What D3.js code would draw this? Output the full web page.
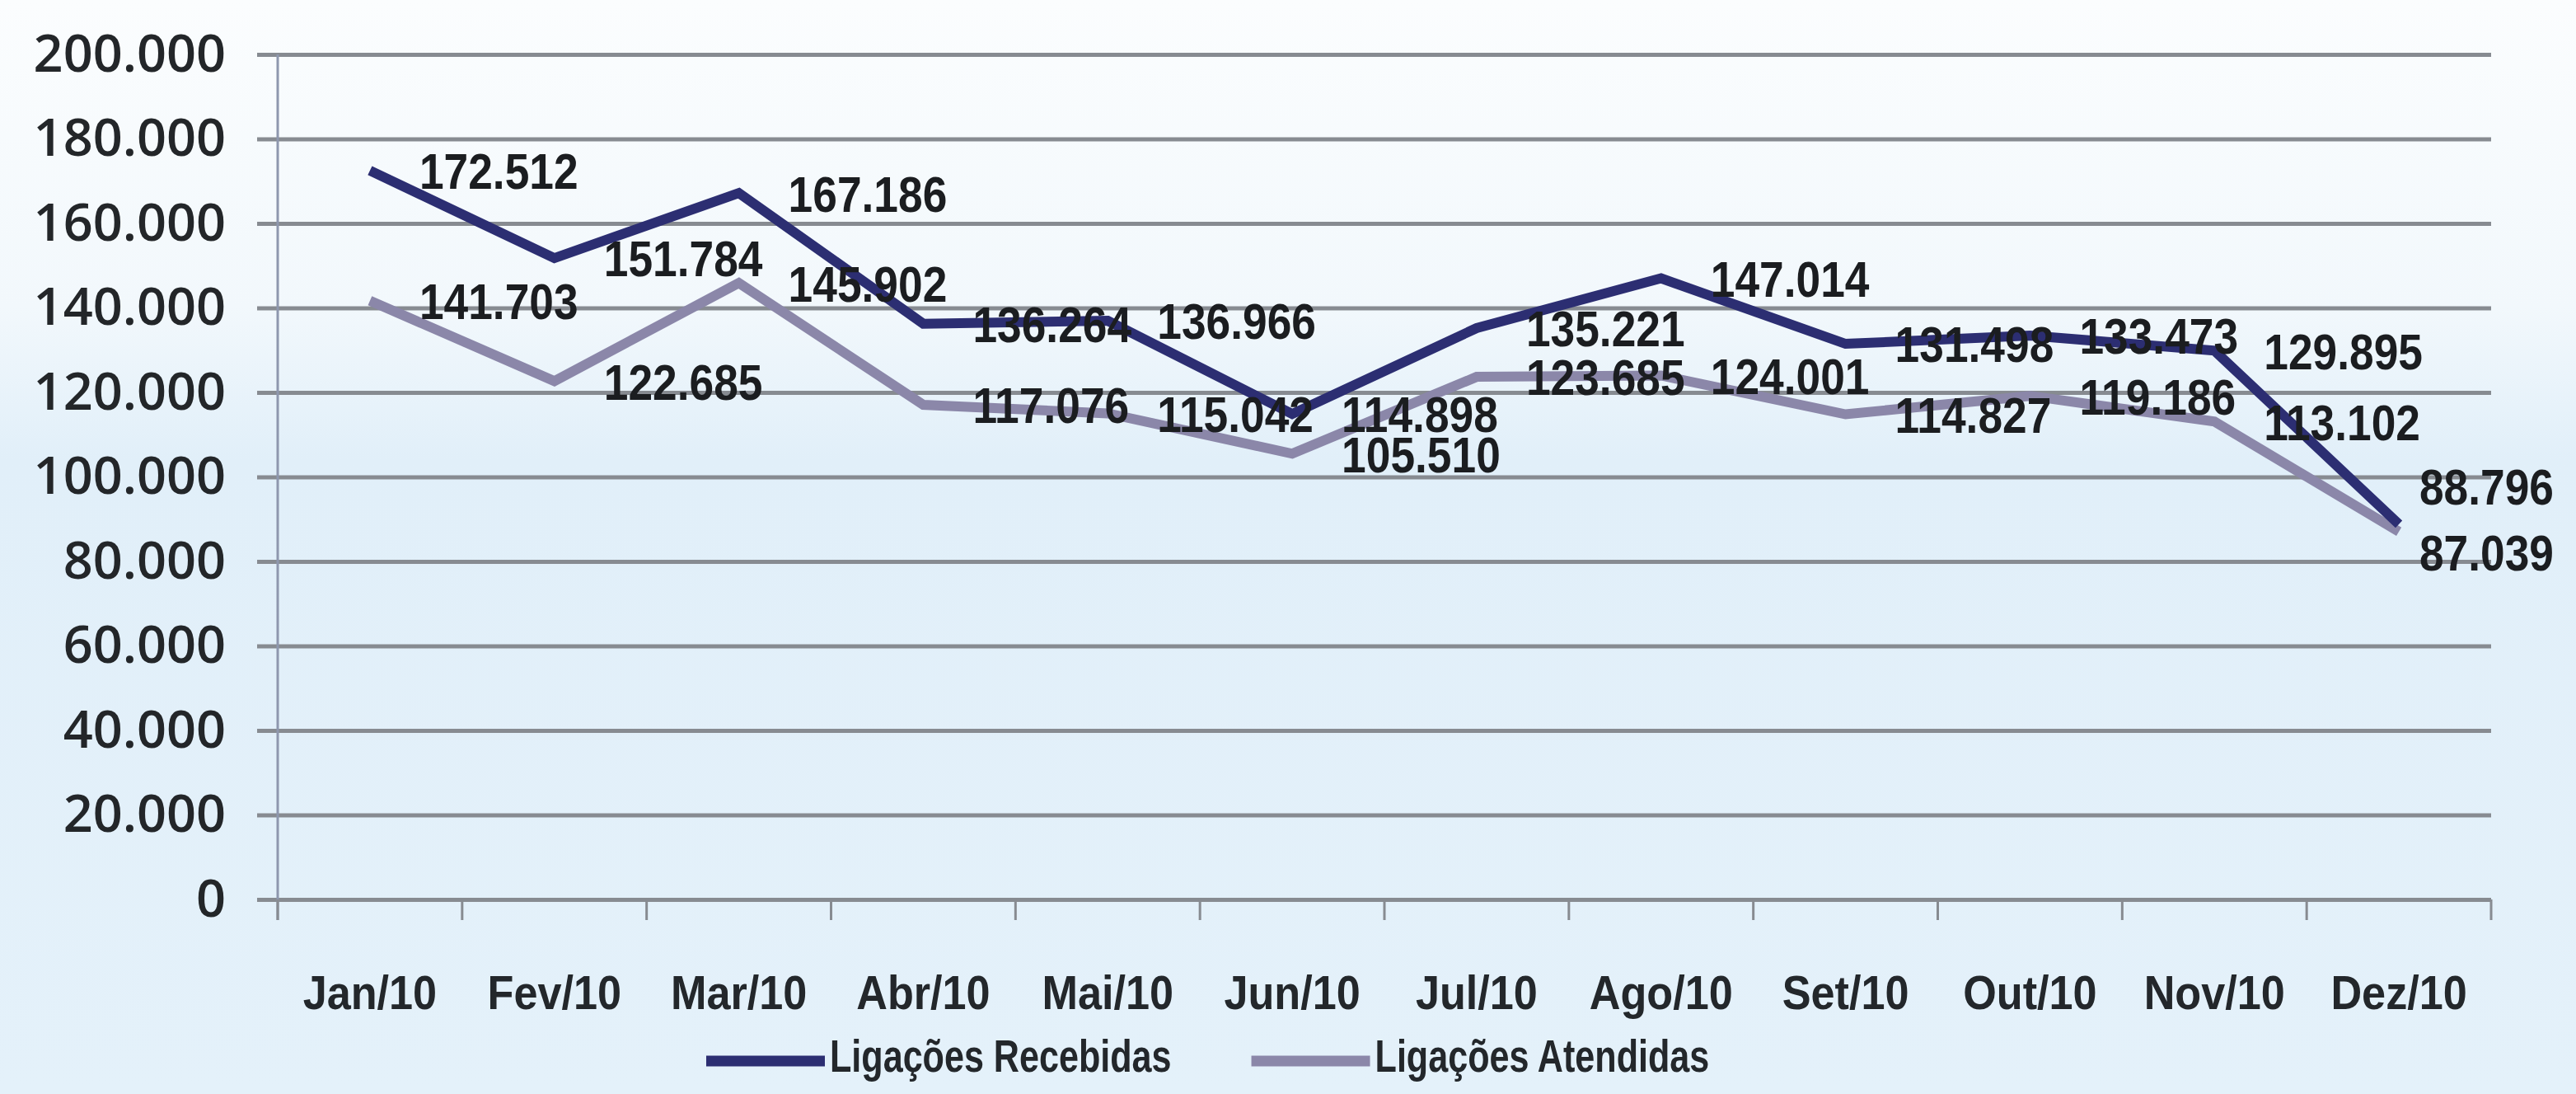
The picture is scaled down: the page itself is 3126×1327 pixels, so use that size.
<!DOCTYPE html>
<html>
<head>
<meta charset="utf-8">
<script src="https://cdn.jsdelivr.net/npm/d3@7"></script>
<style>
  body { margin: 0; background: #f4f9fc; }
  svg { display: block; }
</style>
</head>
<body>
<svg width="3126" height="1327"></svg>
<script>
// months and the two series
const months = ["Jan/10", "Fev/10", "Mar/10", "Abr/10", "Mai/10", "Jun/10",
  "Jul/10", "Ago/10", "Set/10", "Out/10", "Nov/10", "Dez/10"]
const recebidas = [172512, 151784, 167186, 136264, 136966, 114898,
  135221, 147014, 131498, 133473, 129895, 88796]
const atendidas = [141703, 122685, 145902, 117076, 115042, 105510,
  123685, 124001, 114827, 119186, 113102, 87039]
const yTicks = [0, 20000, 40000, 60000, 80000, 100000, 120000, 140000, 160000, 180000, 200000]
const seriesNames = ["Ligações Recebidas", "Ligações Atendidas"]

const series = [
  { name: seriesNames[0], values: recebidas, color: "#2c2e72" },
  { name: seriesNames[1], values: atendidas, color: "#8b87a9" }
]

const svg = d3.select("svg")
const width = +svg.attr("width")
const height = +svg.attr("height")

const ptBR = d3.formatLocale({ decimal: ",", thousands: ".", grouping: [3], currency: ["R$", ""] })
const fmt = ptBR.format(",d")

// no narrow font installed, so squeeze Liberation Sans horizontally
const sans = "'Liberation Sans', Arial, sans-serif"

// background: printed page, white at top fading into light blue
const defs = svg.append("defs")
const bg = defs.append("linearGradient")
  .attr("id", "bg")
  .attr("x1", 0).attr("y1", 0).attr("x2", 0).attr("y2", 1)
bg.append("stop").attr("offset", "0%").attr("stop-color", "#fbfdfe")
bg.append("stop").attr("offset", "28%").attr("stop-color", "#f2f8fc")
bg.append("stop").attr("offset", "42%").attr("stop-color", "#e1eff9")
bg.append("stop").attr("offset", "100%").attr("stop-color", "#e4f1fa")

svg.append("rect")
  .attr("width", width)
  .attr("height", height)
  .attr("fill", "url(#bg)")

const margin = { top: 66, right: 103, bottom: 236, left: 337 }
const x = d3.scaleBand()
  .domain(months)
  .range([margin.left, width - margin.right])
const y = d3.scaleLinear()
  .domain([0, 200000])
  .range([height - margin.bottom, margin.top])

const plotW = width - margin.right - margin.left

// gridlines + y labels
const yAxis = svg.append("g")
  .attr("transform", "translate(" + margin.left + ",0)")
  .call(d3.axisLeft(y).tickValues(yTicks).tickFormat(fmt).tickSize(-plotW).tickPadding(63))
yAxis.select(".domain").remove()
yAxis.selectAll(".tick line")
  .attr("x1", -25)
  .attr("x2", plotW)
  .attr("stroke", "#878b91")
  .attr("stroke-width", 5)
yAxis.selectAll(".tick text")
  .attr("fill", "#232629")
  .attr("font-family", "'Open Sans', sans-serif")
  .attr("font-weight", 600)
  .attr("font-size", 63)

// vertical axis line, running a bit below zero
svg.append("line")
  .attr("x1", margin.left).attr("x2", margin.left)
  .attr("y1", y(200000)).attr("y2", y(0) + 25)
  .attr("stroke", "#8e97ae")
  .attr("stroke-width", 3)

// category boundary ticks
const bounds = months.map((m) => x(m)).concat([x.range()[1]])
svg.append("g")
  .selectAll("line")
  .data(bounds)
  .join("line")
  .attr("x1", (d) => d).attr("x2", (d) => d)
  .attr("y1", y(0)).attr("y2", y(0) + 25)
  .attr("stroke", "#878b91")
  .attr("stroke-width", 3)

// x labels
const xAxis = svg.append("g")
  .attr("transform", "translate(0," + y(0) + ")")
  .call(d3.axisBottom(x).tickSize(0).tickPadding(0))
xAxis.select(".domain").remove()
xAxis.selectAll(".tick text")
  .attr("y", 133)
  .attr("dy", 0)
  .attr("transform", "scale(0.9,1)")
  .attr("fill", "#23272b")
  .attr("font-family", sans)
  .attr("font-weight", "bold")
  .attr("font-size", 58)

const cx = (i) => x(months[i]) + x.bandwidth() / 2

const line = d3.line()
  .x((d, i) => cx(i))
  .y((d) => y(d))

// draw lighter series first so the dark one sits on top
series.slice().reverse().forEach((s) => {
  svg.append("path")
    .datum(s.values)
    .attr("fill", "none")
    .attr("stroke", s.color)
    .attr("stroke-width", 12)
    .attr("stroke-linejoin", "miter")
    .attr("d", line)
})

// data labels, to the right of each point; pulled back in at the right
// edge and pushed apart where the two series almost meet
const labelScale = 0.86
series.forEach((s, k) => {
  const other = series[1 - k].values
  svg.append("g")
    .selectAll("text")
    .data(s.values)
    .join("text")
    .attr("dy", "0.36em")
    .attr("fill", "#1b1d20")
    .attr("font-family", sans)
    .attr("font-weight", "bold")
    .attr("font-size", 62)
    .text((d) => fmt(d))
    .attr("transform", function (d, i) {
      const w = this.getComputedTextLength() * labelScale
      const lx = Math.min(cx(i) + 60, width - 27 - w)
      let ly = y(d)
      if (Math.abs(y(d) - y(other[i])) < 20) ly += d >= other[i] ? -46 : 25
      return "translate(" + lx + "," + ly + ") scale(" + labelScale + ",1)"
    })
})

// legend
const legend = svg.append("g")
const legendScale = 0.77
let lx = 857
series.forEach((s) => {
  legend.append("line")
    .attr("x1", lx).attr("x2", lx + 144)
    .attr("y1", 1287).attr("y2", 1287)
    .attr("stroke", s.color)
    .attr("stroke-width", 13)
  const t = legend.append("text")
    .attr("transform", "translate(" + (lx + 150) + ",1300) scale(" + legendScale + ",1)")
    .attr("fill", "#23272b")
    .attr("font-family", sans)
    .attr("font-weight", "bold")
    .attr("font-size", 56)
    .text(s.name)
  lx += 150 + t.node().getComputedTextLength() * legendScale + 97
})
</script>
</body>
</html>
